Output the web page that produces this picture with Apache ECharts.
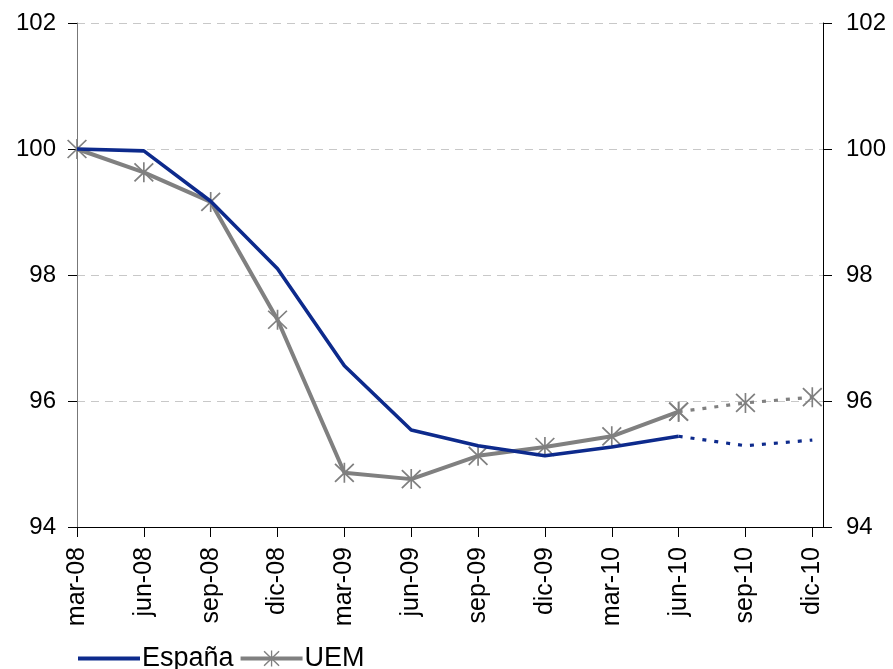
<!DOCTYPE html>
<html>
<head>
<meta charset="utf-8">
<script src="https://cdn.jsdelivr.net/npm/echarts@6/dist/echarts.min.js"></script>
<style>
  html, body { margin: 0; padding: 0; background: #fff; }
  #chart { width: 893px; height: 669px; }
</style>
</head>
<body>
<div id="chart"></div>
<script>
// --- Data ---
const categories = ['mar-08', 'jun-08', 'sep-08', 'dic-08', 'mar-09', 'jun-09',
  'sep-09', 'dic-09', 'mar-10', 'jun-10', 'sep-10', 'dic-10'];
const espana = [100, 99.97, 99.17, 98.10, 96.56, 95.54, 95.29, 95.13, 95.27, 95.44, 95.29, 95.38];
const uem = [100, 99.63, 99.16, 97.29, 94.86, 94.76, 95.13, 95.27, 95.44, 95.83, 95.97, 96.06];
const lastObserved = 9; // jun-10, forecasts after

// asterisk marker: vertical bar + X
const STAR = 'path://M-0.8,-10L0.8,-10L0.8,10L-0.8,10Z' +
  'M-8.4,-9.6L9.6,8.4L8.4,9.6L-9.6,-8.4Z' +
  'M8.4,-9.6L9.6,-8.4L-8.4,9.6L-9.6,8.4Z';
// plain line for the legend (tiny corner dots keep the box size)
const LEGEND_LINE = 'path://M0,0L0.01,0L0.01,0.01Z' +
  'M0,8L62,8L62,12L0,12Z' +
  'M61.99,19.99L62,19.99L62,20Z';

const toPairs = (arr, from, to) => arr.map((v, i) => [i, (i >= from && i <= to) ? v : null]);

const NAVY = '#0d2a8c';
const GREY = '#808080';
const FONT = 'Liberation Sans, Arial, sans-serif';

const chart = echarts.init(document.getElementById('chart'));

const yAxisBase = {
  type: 'value',
  min: 94,
  max: 102,
  interval: 2,
  axisTick: { show: true, length: 9, lineStyle: { color: '#000' } },
  axisLabel: { color: '#000', fontSize: 24, fontFamily: FONT }
};

const option = {
  animation: false,
  backgroundColor: '#fff',
  grid: { left: 77, right: 70, top: 23, bottom: 142 },
  legend: {
    left: 73,
    top: 640,
    itemWidth: 62,
    itemHeight: 20,
    itemGap: 5,
    textStyle: { color: '#000', fontSize: 27, fontFamily: FONT, padding: [0, 0, 0, -3] },
    data: [
      { name: 'España', icon: LEGEND_LINE },
      { name: 'UEM', lineStyle: { width: 4 } }
    ]
  },
  xAxis: {
    type: 'value',
    min: 0,
    max: 11.16,
    interval: 1,
    axisLine: { show: true, onZero: false, lineStyle: { color: '#000', width: 1 } },
    axisTick: { show: true, length: 10, lineStyle: { color: '#000' } },
    splitLine: { show: false },
    axisLabel: {
      rotate: 90,
      color: '#000',
      fontSize: 25,
      fontFamily: FONT,
      margin: 20,
      showMaxLabel: false,
      formatter: v => (Number.isInteger(v) && categories[v]) ? categories[v] : ''
    }
  },
  yAxis: [
    Object.assign({}, yAxisBase, {
      position: 'left',
      axisLine: { show: true, lineStyle: { color: '#777', width: 1 } },
      axisLabel: Object.assign({}, yAxisBase.axisLabel, { margin: 21 }),
      splitLine: { show: true, lineStyle: { color: '#c8c8c8', type: [8, 6], width: 1 } }
    }),
    Object.assign({}, yAxisBase, {
      position: 'right',
      axisLine: { show: true, lineStyle: { color: '#000', width: 1 } },
      axisLabel: Object.assign({}, yAxisBase.axisLabel, { margin: 23 }),
      splitLine: { show: false }
    })
  ],
  series: [
    {
      name: 'España',
      type: 'line',
      data: toPairs(espana, 0, lastObserved),
      symbol: 'none',
      lineStyle: { color: NAVY, width: 3.6 },
      itemStyle: { color: NAVY },
      z: 3
    },
    {
      name: 'UEM',
      type: 'line',
      data: toPairs(uem, 0, lastObserved),
      symbol: STAR,
      symbolSize: 20,
      showAllSymbol: true,
      lineStyle: { color: GREY, width: 4 },
      itemStyle: { color: GREY },
      z: 2
    },
    {
      name: 'España',
      type: 'line',
      data: toPairs(espana, lastObserved, 11),
      symbol: 'none',
      lineStyle: { color: NAVY, width: 3.2, type: [4, 8] },
      itemStyle: { color: NAVY },
      z: 3
    },
    {
      name: 'UEM',
      type: 'line',
      data: toPairs(uem, lastObserved, 11),
      symbol: STAR,
      symbolSize: 20,
      showAllSymbol: true,
      lineStyle: { color: GREY, width: 3.2, type: [4, 8] },
      itemStyle: { color: GREY },
      z: 2
    }
  ]
};

chart.setOption(option);

const resize = () => chart.resize();
window.addEventListener('resize', resize);
</script>
</body>
</html>
